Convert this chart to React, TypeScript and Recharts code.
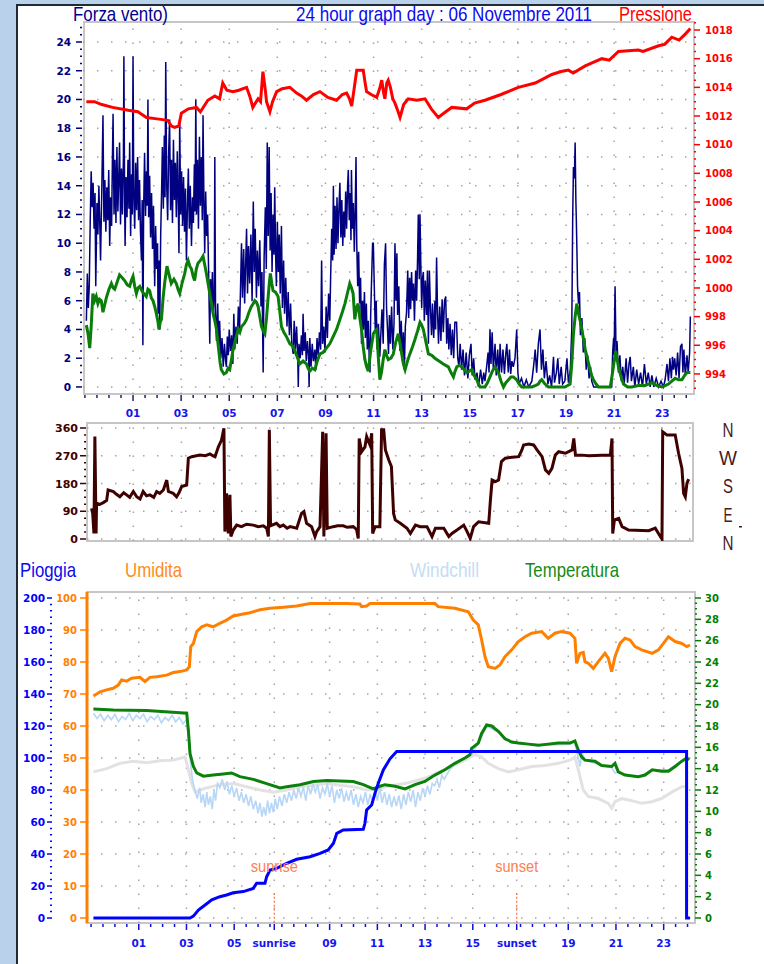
import React from 'react';
import { LineChart, Line, XAxis, YAxis, ReferenceLine, ReferenceDot } from 'recharts';

type P = [number, number];

// ---------- tick labels / categories ----------
const hourTicksTop = [1, 3, 5, 7, 9, 11, 13, 15, 17, 19, 21, 23];
const hourLabelsTop = ['01', '03', '05', '07', '09', '11', '13', '15', '17', '19', '21', '23'];
const sunriseHour = 6.68;
const sunsetHour = 16.84;
const hourTicksBottom = [1, 3, 5, sunriseHour, 9, 11, 13, 15, sunsetHour, 19, 21, 23];
const hourLabelsBottom = ['01', '03', '05', 'sunrise', '09', '11', '13', '15', 'sunset', '19', '21', '23'];
const windTicks = [0, 2, 4, 6, 8, 10, 12, 14, 16, 18, 20, 22, 24];
const pressureTicks = [994, 996, 998, 1000, 1002, 1004, 1006, 1008, 1010, 1012, 1014, 1016, 1018];
const dirTicks = [0, 90, 180, 270, 360];
const dirLetters = ['N', 'W', 'S', 'E', 'N'];
const rainTicks = [0, 20, 40, 60, 80, 100, 120, 140, 160, 180, 200];
const humTicks = [0, 10, 20, 30, 40, 50, 60, 70, 80, 90, 100];
const tempTicks = [0, 2, 4, 6, 8, 10, 12, 14, 16, 18, 20, 22, 24, 26, 28, 30];

// ---------- series (hour, value) ----------
const pressure: P[] = [
  [-0.94, 1013.0], [-0.6, 1013.0], [-0.3, 1012.8], [0.15, 1012.6], [0.8, 1012.4], [1.2, 1012.3], [1.56, 1011.9], [2.0, 1011.8],
  [2.44, 1011.7], [2.6, 1011.3], [2.73, 1011.2], [2.9, 1011.3], [3.01, 1012.2], [3.3, 1012.5], [3.64, 1012.6], [3.8, 1012.3],
  [4.11, 1013.1], [4.4, 1013.4], [4.6, 1013.2], [4.73, 1014.3], [4.9, 1013.8], [5.15, 1013.7], [5.4, 1013.8], [5.72, 1014.0],
  [5.85, 1013.4], [5.98, 1012.6], [6.2, 1013.2], [6.3, 1013.0], [6.4, 1015.1], [6.5, 1013.8], [6.55, 1013.0], [6.69, 1012.3],
  [6.8, 1013.0], [6.97, 1013.7], [7.2, 1013.9], [7.52, 1014.0], [7.8, 1013.6], [8.0, 1013.4], [8.21, 1013.1], [8.5, 1013.5],
  [8.77, 1013.7], [9.1, 1013.3], [9.46, 1013.1], [9.7, 1013.5], [9.88, 1013.6], [10.0, 1013.2], [10.09, 1012.7], [10.2, 1014.0],
  [10.3, 1015.2], [10.57, 1015.2], [10.65, 1014.3], [10.71, 1013.7], [10.9, 1013.5], [11.13, 1013.3], [11.25, 1013.9], [11.34, 1014.5],
  [11.42, 1013.6], [11.47, 1013.2], [11.55, 1014.3], [11.61, 1014.5], [11.7, 1014.0], [11.8, 1013.2], [11.89, 1012.9], [12.0, 1012.4],
  [12.1, 1011.9], [12.25, 1012.8], [12.44, 1013.2], [12.8, 1013.1], [13.14, 1013.2], [13.4, 1012.5], [13.69, 1011.9], [14.0, 1012.3],
  [14.25, 1012.6], [14.87, 1012.5], [15.2, 1012.9], [15.63, 1013.1], [16.3, 1013.5], [17.02, 1014.0], [17.72, 1014.3], [18.41, 1014.9],
  [18.8, 1015.1], [19.1, 1015.2], [19.3, 1015.0], [19.8, 1015.5], [20.49, 1016.0], [20.8, 1015.9], [21.18, 1016.5], [22.01, 1016.6],
  [22.2, 1016.5], [22.85, 1016.9], [23.1, 1017.0], [23.4, 1017.5], [23.7, 1017.3], [23.95, 1017.7], [24.17, 1018.1],
];

const gustNight: P[] = [
  [-0.94, 4.6], [-0.9, 7.9], [-0.86, 5.5], [-0.82, 7.0], [-0.78, 11.5], [-0.74, 15.0], [-0.7, 12.5], [-0.66, 14.2], [-0.62, 11.0],
  [-0.58, 13.5], [-0.55, 7.0], [-0.5, 12.8], [-0.46, 10.6], [-0.42, 14.0], [-0.38, 11.2], [-0.35, 8.8], [-0.3, 13.6], [-0.25, 18.9],
  [-0.21, 11.5], [-0.17, 14.4], [-0.13, 10.8], [-0.09, 13.9], [-0.05, 11.6], [-0.01, 15.1], [0.03, 9.8], [0.07, 13.2], [0.11, 11.2],
  [0.14, 15.5], [0.17, 19.0], [0.21, 12.0], [0.25, 15.8], [0.29, 11.4], [0.33, 16.7], [0.37, 12.2], [0.41, 14.8], [0.44, 17.0],
  [0.48, 11.3], [0.52, 15.2], [0.56, 12.0], [0.6, 16.0], [0.62, 23.0], [0.65, 13.0], [0.67, 9.8], [0.71, 14.6], [0.75, 11.8],
  [0.79, 15.8], [0.83, 12.4], [0.86, 17.0], [0.9, 10.5], [0.94, 14.8], [0.97, 12.0], [1.0, 23.0], [1.03, 13.5], [1.07, 11.0],
  [1.11, 15.6], [1.15, 12.3], [1.19, 16.0], [1.23, 11.6], [1.27, 14.4], [1.31, 10.8], [1.35, 8.8], [1.38, 13.0], [1.41, 2.9],
  [1.44, 12.2], [1.48, 16.3], [1.52, 11.9], [1.56, 15.0], [1.59, 12.6], [1.62, 20.0], [1.65, 11.8], [1.69, 14.7], [1.73, 10.4],
  [1.77, 13.5], [1.81, 9.6], [1.85, 12.6], [1.9, 7.0], [1.94, 11.2], [1.98, 8.2], [2.02, 10.0], [2.04, 5.1], [2.08, 8.8],
  [2.11, 4.0], [2.15, 10.6], [2.19, 13.8], [2.22, 16.7], [2.26, 12.4], [2.3, 17.5], [2.33, 13.2], [2.36, 22.6], [2.4, 14.0],
  [2.44, 11.6], [2.48, 16.2], [2.52, 18.6], [2.56, 12.3], [2.6, 15.8], [2.64, 11.4], [2.68, 17.2], [2.72, 13.0], [2.76, 15.6],
  [2.8, 11.8], [2.84, 16.4], [2.88, 12.8], [2.91, 9.3], [2.94, 18.6], [2.98, 12.0], [3.02, 15.0], [3.06, 11.2], [3.1, 14.6],
  [3.14, 10.8], [3.18, 13.8], [3.22, 8.8], [3.26, 12.5], [3.3, 15.2], [3.34, 11.0], [3.38, 14.0], [3.43, 9.8], [3.47, 13.2],
  [3.51, 11.4], [3.55, 15.5], [3.58, 12.2], [3.61, 20.0], [3.64, 12.0], [3.68, 15.8], [3.72, 11.0], [3.76, 17.4], [3.8, 12.6],
  [3.84, 16.0], [3.88, 11.6], [3.91, 18.9], [3.95, 12.4], [3.98, 9.3], [4.02, 13.6], [4.06, 10.5], [4.1, 12.0], [4.14, 8.2],
  [4.19, 3.0], [4.22, 7.5], [4.26, 5.8], [4.3, 8.0], [4.34, 5.0], [4.38, 6.6], [4.4, 16.0],
];

const gustMorning: P[] = [
  [4.43, 5.2], [4.47, 3.2], [4.52, 5.8], [4.56, 2.8], [4.6, 4.6], [4.65, 2.0], [4.7, 3.4], [4.75, 1.4], [4.8, 3.0], [4.85, 1.8],
  [4.88, 1.4], [4.92, 3.5], [4.96, 2.2], [5.0, 4.0], [5.05, 2.5], [5.1, 3.6], [5.15, 1.6], [5.19, 5.1], [5.23, 2.6], [5.28, 4.2],
  [5.33, 3.0], [5.38, 5.6], [5.43, 4.0], [5.47, 7.0], [5.51, 10.0], [5.55, 6.2], [5.6, 9.6], [5.64, 5.8], [5.68, 8.4], [5.72, 11.0],
  [5.76, 6.5], [5.8, 9.8], [5.85, 7.2], [5.9, 10.6], [5.95, 6.0], [6.0, 12.9], [6.04, 8.0], [6.08, 11.0], [6.13, 6.2], [6.17, 9.5],
  [6.22, 7.0], [6.27, 10.2], [6.32, 5.6], [6.36, 8.0], [6.41, 1.0], [6.45, 9.0], [6.5, 12.5], [6.54, 8.2], [6.58, 17.0], [6.62, 10.5],
  [6.66, 16.7], [6.7, 9.5], [6.74, 13.5], [6.78, 8.0], [6.82, 12.0], [6.86, 9.2], [6.89, 13.9], [6.93, 9.0], [6.96, 7.0], [7.0, 11.5],
  [7.04, 8.0], [7.08, 10.6], [7.12, 6.5], [7.17, 11.2], [7.21, 5.5], [7.26, 8.8], [7.3, 5.1], [7.35, 7.6], [7.4, 4.2], [7.45, 6.6],
  [7.5, 3.6], [7.55, 5.8], [7.6, 3.0], [7.66, 2.3], [7.7, 4.6], [7.75, 2.6], [7.8, 4.2], [7.85, 2.0], [7.87, 0], [7.9, 3.0],
  [7.95, 2.0], [8.0, 3.6], [8.04, 2.2], [8.07, 5.1], [8.11, 2.5], [8.16, 3.8], [8.2, 1.8], [8.25, 3.2], [8.3, 2.0], [8.32, 0],
  [8.35, 3.4], [8.4, 1.4], [8.45, 3.0], [8.5, 1.8], [8.56, 2.6], [8.6, 1.2], [8.65, 3.4], [8.7, 2.2], [8.75, 3.8], [8.8, 2.6],
  [8.84, 8.8], [8.88, 3.0], [8.93, 4.2], [8.98, 2.4], [9.03, 5.6], [9.08, 3.4], [9.13, 6.5], [9.18, 4.6], [9.22, 8.0], [9.26, 11.0],
  [9.3, 8.8], [9.33, 14.0], [9.36, 9.2], [9.4, 12.6], [9.44, 9.6], [9.48, 13.2], [9.52, 10.0], [9.56, 12.4], [9.6, 14.2], [9.64, 10.4],
  [9.68, 13.0], [9.72, 9.8], [9.76, 12.2], [9.8, 10.4], [9.84, 13.6], [9.88, 11.0], [9.92, 14.0], [9.95, 15.1], [9.99, 11.6], [10.03, 13.5],
  [10.06, 10.2], [10.08, 15.1], [10.12, 11.0], [10.16, 12.8], [10.2, 9.4], [10.24, 12.6], [10.27, 16.0], [10.3, 10.0], [10.34, 7.0],
  [10.38, 9.4], [10.42, 5.8], [10.46, 7.6], [10.5, 3.0], [10.54, 6.0], [10.58, 4.0], [10.62, 6.6], [10.66, 3.4], [10.7, 5.8],
  [10.74, 2.6], [10.78, 4.6], [10.82, 2.0], [10.85, 1.0], [10.88, 5.0], [10.92, 7.6], [10.96, 10.0], [10.99, 10.0], [11.03, 7.0],
  [11.07, 4.0], [11.11, 6.0], [11.15, 2.6], [11.2, 4.4], [11.26, 2.1], [11.3, 3.6], [11.35, 5.4], [11.4, 3.0], [11.45, 8.5],
  [11.5, 10.0], [11.54, 5.5],
];

const gustAfternoon: P[] = [
  [11.58, 4.0], [11.62, 2.3], [11.66, 5.0], [11.7, 3.0], [11.75, 5.6], [11.8, 2.6], [11.85, 4.4], [11.89, 10.0], [11.93, 6.0],
  [11.97, 9.3], [12.0, 5.0], [12.05, 7.0], [12.1, 2.5], [12.15, 4.6], [12.2, 1.8], [12.24, 3.8], [12.28, 1.2], [12.32, 4.2],
  [12.37, 5.2], [12.42, 8.1], [12.46, 4.8], [12.5, 7.6], [12.54, 5.4], [12.58, 8.0], [12.62, 6.0], [12.66, 7.2], [12.7, 4.6],
  [12.75, 8.1], [12.79, 6.0], [12.83, 9.0], [12.86, 12.0], [12.9, 7.5], [12.93, 12.0], [12.97, 8.0], [13.0, 5.5], [13.04, 7.6],
  [13.07, 8.0], [13.11, 4.6], [13.15, 7.4], [13.2, 5.0], [13.24, 8.1], [13.28, 3.0], [13.32, 8.1], [13.37, 5.2], [13.41, 3.6],
  [13.45, 5.8], [13.5, 3.4], [13.55, 6.0], [13.58, 4.0], [13.62, 9.0], [13.66, 5.2], [13.7, 3.0], [13.75, 5.6], [13.8, 3.2],
  [13.85, 6.1], [13.9, 3.8], [13.95, 6.0], [14.0, 6.3], [14.04, 3.0], [14.09, 4.8], [14.13, 2.6], [14.18, 4.4], [14.23, 2.2],
  [14.28, 4.0], [14.33, 2.0], [14.38, 4.5], [14.45, 4.5], [14.5, 2.0], [14.55, 1.4], [14.6, 3.0], [14.66, 1.2], [14.72, 2.6],
  [14.78, 0.8], [14.85, 2.4], [14.92, 0.6], [14.98, 2.2], [15.05, 3.0], [15.1, 0.8], [15.16, 2.0], [15.22, 0.5], [15.3, 1.0],
  [15.36, 0], [15.45, 1.2], [15.52, 0.2], [15.58, 1.0], [15.63, 0.4], [15.7, 1.4], [15.76, 2.4], [15.8, 1.0], [15.84, 4.0],
  [15.88, 1.6], [15.93, 3.8], [15.98, 1.2], [16.05, 3.0], [16.1, 0.8], [16.16, 2.6], [16.22, 0.8], [16.26, 3.0], [16.32, 1.0],
  [16.38, 2.6], [16.44, 0.9], [16.5, 2.4], [16.54, 3.0], [16.6, 1.0], [16.65, 2.6], [16.7, 0.9], [16.75, 1.8], [16.81, 1.4],
  [16.88, 2.0], [16.95, 4.0], [17.0, 1.0], [17.05, 0.2], [17.15, 0.6], [17.25, 0], [17.35, 0.5], [17.45, 0], [17.58, 0.4],
  [17.65, 1.4], [17.72, 2.6], [17.78, 1.0], [17.85, 3.0], [17.92, 4.0], [17.98, 1.2], [18.04, 2.6], [18.1, 0.6], [18.17, 1.8],
  [18.25, 0.2], [18.32, 0.8], [18.4, 0], [18.48, 2.1], [18.52, 0.3], [18.6, 1.0], [18.66, 2.0], [18.72, 0.2], [18.8, 1.4],
  [18.86, 0.2], [18.95, 0.4], [19.04, 2.0], [19.1, 0.3], [19.18, 1.2], [19.24, 4.0], [19.28, 12.0], [19.31, 15.3], [19.35, 14.5],
  [19.38, 17.0], [19.41, 13.0], [19.43, 11.6], [19.46, 9.0], [19.48, 7.0], [19.52, 5.8], [19.56, 6.6], [19.6, 3.6], [19.66, 4.8],
  [19.72, 2.4], [19.78, 3.4], [19.84, 1.2], [19.9, 2.2], [19.96, 0.6], [20.02, 1.4], [20.07, 0.4], [20.15, 0], [20.5, 0],
  [20.9, 0], [20.94, 2.4], [20.98, 3.4], [21.0, 2.2], [21.04, 7.0], [21.08, 2.4], [21.12, 3.2], [21.18, 1.0], [21.24, 2.2],
  [21.3, 0.4], [21.36, 1.4], [21.42, 0.2], [21.5, 2.0], [21.56, 0.3], [21.62, 1.6], [21.67, 2.1], [21.72, 0.4], [21.8, 1.4],
  [21.86, 0], [21.94, 1.2], [22.02, 0.2], [22.1, 1.0], [22.18, 0], [22.26, 1.6], [22.34, 0.2], [22.42, 1.0], [22.5, 0],
  [22.57, 0.8], [22.65, 0], [22.75, 0.6], [22.85, 0], [22.95, 0.4], [23.05, 0], [23.12, 0.5], [23.2, 1.6], [23.26, 0.4],
  [23.32, 2.0], [23.38, 0.6], [23.43, 2.1], [23.47, 1.2], [23.52, 2.0], [23.58, 0.8], [23.64, 2.4], [23.7, 0.6], [23.76, 2.8],
  [23.82, 3.0], [23.86, 1.0], [23.9, 2.6], [23.96, 0.8], [24.03, 2.2], [24.08, 1.0], [24.14, 2.4], [24.17, 4.9],
];

const windAvg: P[] = [
  [-0.94, 4.3], [-0.87, 3.7], [-0.8, 2.7], [-0.74, 4.2], [-0.67, 6.5], [-0.6, 6.0], [-0.53, 6.3], [-0.46, 5.8], [-0.39, 6.1],
  [-0.32, 6.0], [-0.25, 5.2], [-0.18, 5.7], [-0.11, 6.2], [0.0, 6.8], [0.1, 7.2], [0.17, 6.9], [0.24, 6.8], [0.34, 7.3],
  [0.44, 7.8], [0.55, 7.6], [0.65, 7.4], [0.76, 7.1], [0.86, 7.0], [0.93, 7.4], [1.0, 7.7], [1.07, 7.0], [1.14, 6.5],
  [1.21, 6.9], [1.28, 7.0], [1.4, 6.6], [1.55, 6.3], [1.62, 6.8], [1.69, 6.7], [1.76, 6.2], [1.83, 6.0], [1.9, 5.6],
  [1.97, 5.1], [2.03, 4.6], [2.08, 4.0], [2.13, 4.5], [2.18, 4.7], [2.25, 6.2], [2.32, 7.3], [2.41, 8.4], [2.5, 7.8],
  [2.59, 7.2], [2.7, 7.5], [2.8, 7.2], [2.87, 6.8], [2.94, 6.5], [3.05, 7.3], [3.15, 7.9], [3.22, 8.5], [3.29, 8.8],
  [3.36, 8.4], [3.43, 8.2], [3.5, 7.7], [3.56, 7.4], [3.63, 8.2], [3.7, 8.6], [3.8, 8.8], [3.91, 9.1], [3.98, 8.5],
  [4.05, 7.9], [4.12, 7.2], [4.19, 6.5], [4.26, 5.8], [4.33, 5.1], [4.4, 4.6], [4.47, 4.0], [4.52, 3.2], [4.58, 2.3],
  [4.62, 1.7], [4.67, 1.2], [4.78, 0.9], [4.88, 1.0], [4.95, 1.3], [5.02, 1.2], [5.09, 1.9], [5.16, 2.6], [5.26, 3.3],
  [5.37, 4.0], [5.44, 3.8], [5.51, 4.2], [5.62, 4.4], [5.72, 4.7], [5.82, 5.2], [5.92, 5.6], [6.0, 5.8], [6.06, 6.0],
  [6.13, 5.9], [6.2, 5.6], [6.27, 4.9], [6.34, 4.2], [6.41, 3.9], [6.48, 3.7], [6.55, 4.8], [6.62, 6.3], [6.67, 7.3],
  [6.71, 7.9], [6.77, 7.2], [6.82, 6.7], [6.92, 6.6], [7.03, 6.3], [7.1, 5.3], [7.17, 4.2], [7.27, 3.8], [7.38, 3.5],
  [7.52, 3.0], [7.66, 2.8], [7.8, 2.2], [7.93, 1.6], [8.07, 1.8], [8.21, 1.6], [8.28, 1.3], [8.35, 1.1], [8.45, 1.3],
  [8.56, 1.2], [8.66, 1.8], [8.77, 2.3], [8.9, 2.4], [9.04, 2.7], [9.18, 3.0], [9.32, 3.5], [9.46, 4.0], [9.6, 4.7],
  [9.7, 5.2], [9.81, 5.8], [9.91, 6.5], [10.01, 7.2], [10.08, 6.9], [10.15, 6.5], [10.22, 4.7], [10.29, 5.5], [10.36, 5.8],
  [10.43, 4.8], [10.5, 4.0], [10.57, 2.8], [10.64, 1.9], [10.71, 1.4], [10.78, 1.1], [10.88, 2.5], [10.99, 3.7],
  [11.06, 3.9], [11.13, 4.0], [11.2, 2.0], [11.26, 0.5], [11.33, 1.0], [11.4, 1.9], [11.47, 2.6], [11.54, 2.2],
  [11.61, 1.9], [11.72, 2.0], [11.82, 2.3], [11.92, 3.1], [12.03, 3.7], [12.1, 3.0], [12.17, 2.3], [12.24, 1.6],
  [12.31, 1.2], [12.41, 1.8], [12.51, 2.3], [12.62, 2.8], [12.72, 3.3], [12.83, 3.9], [12.93, 4.5], [13.0, 4.3],
  [13.07, 4.0], [13.18, 3.1], [13.28, 2.3], [13.42, 2.2], [13.55, 2.0], [13.72, 1.8], [13.9, 1.6], [14.0, 1.5],
  [14.11, 1.4], [14.22, 1.0], [14.32, 0.7], [14.39, 1.1], [14.46, 1.4], [14.56, 1.5], [14.66, 1.4], [14.77, 1.2],
  [14.87, 1.0], [14.98, 1.1], [15.08, 1.2], [15.18, 0.8], [15.29, 0.5], [15.36, 0.2], [15.43, 0], [15.53, 0],
  [15.63, 0], [15.74, 0.3], [15.84, 0.7], [15.94, 1.1], [16.05, 1.4], [16.12, 1.2], [16.19, 1.0], [16.3, 0.4],
  [16.4, 0], [16.5, 0.3], [16.61, 0.5], [16.71, 0.7], [16.81, 0.7], [16.88, 0.6], [16.95, 0.5], [17.05, 0.2],
  [17.16, 0], [17.37, 0], [17.58, 0], [17.72, 0.1], [17.85, 0.2], [17.92, 0.4], [17.99, 0.5], [18.13, 0.2],
  [18.27, 0], [18.62, 0], [18.96, 0], [19.07, 0.1], [19.17, 0.2], [19.24, 1.6], [19.31, 3.7], [19.38, 4.9],
  [19.45, 5.8], [19.52, 5.1], [19.59, 4.6], [19.66, 4.0], [19.73, 3.3], [19.8, 2.6], [19.9, 1.9], [20.0, 1.2],
  [20.07, 0.8], [20.14, 0.5], [20.25, 0.2], [20.35, 0], [20.6, 0], [20.84, 0], [20.9, 0.6], [20.97, 1.4],
  [21.02, 2.0], [21.07, 2.5], [21.12, 2.0], [21.18, 1.4], [21.29, 0.7], [21.39, 0.2], [21.56, 0], [21.73, 0],
  [22.01, 0.1], [22.29, 0.1], [22.43, 0.2], [22.57, 0.3], [22.78, 0.1], [22.99, 0], [23.12, 0.1], [23.26, 0.2],
  [23.4, 0.4], [23.54, 0.6], [23.68, 0.5], [23.82, 0.5], [23.93, 0.8], [24.03, 1.0], [24.17, 1.0],
];

const windDir: P[] = [
  [-0.74, 99], [-0.69, 83], [-0.64, 18], [-0.6, 332], [-0.55, 18], [-0.53, 116], [-0.4, 112], [-0.25, 118], [-0.11, 125],
  [-0.05, 159], [0.17, 154], [0.3, 145], [0.44, 137], [0.6, 150], [0.72, 143], [0.85, 135], [1.0, 154], [1.14, 137], [1.28, 130],
  [1.41, 154], [1.55, 140], [1.69, 143], [1.85, 135], [1.97, 154], [2.1, 148], [2.25, 159], [2.39, 191], [2.46, 154], [2.66, 148],
  [2.8, 137], [2.9, 150], [3.01, 170], [3.22, 175], [3.29, 262], [3.43, 267], [3.77, 272], [4.0, 270], [4.19, 276], [4.3, 270],
  [4.4, 267], [4.54, 299], [4.67, 321], [4.77, 359], [4.81, 24], [4.88, 148], [4.95, 18], [5.02, 143], [5.06, 8], [5.16, 29],
  [5.3, 45], [5.5, 40], [5.71, 48], [5.99, 45], [6.2, 40], [6.41, 43], [6.55, 35], [6.62, 8], [6.66, 354], [6.71, 43], [6.96, 51],
  [7.1, 40], [7.24, 45], [7.4, 35], [7.52, 40], [7.8, 35], [8.0, 83], [8.1, 89], [8.21, 51], [8.42, 40], [8.56, 8], [8.63, 24],
  [8.77, 40], [8.88, 348], [8.93, 8], [9.02, 343], [9.07, 35], [9.32, 40], [9.5, 43], [9.74, 43], [9.9, 38], [10.15, 40],
  [10.29, 31], [10.36, 2], [10.4, 326], [10.5, 283], [10.64, 299], [10.71, 332], [10.85, 305], [10.92, 343], [10.96, 18],
  [11.06, 40], [11.26, 40], [11.33, 354], [11.42, 354], [11.49, 289], [11.63, 256], [11.74, 235], [11.83, 83], [11.9, 62],
  [12.11, 51], [12.39, 35], [12.53, 18], [12.74, 45], [12.94, 40], [13.22, 40], [13.43, 8], [13.57, 35], [13.92, 35], [14.13, 8],
  [14.26, 18], [14.47, 29], [14.75, 45], [14.89, 24], [15.02, 2], [15.16, 40], [15.37, 56], [15.79, 51], [15.86, 126], [15.93, 191],
  [16.07, 186], [16.2, 191], [16.32, 251], [16.48, 262], [16.76, 265], [17.04, 267], [17.17, 289], [17.24, 305], [17.45, 308],
  [17.66, 305], [17.8, 289], [18.01, 267], [18.15, 224], [18.29, 213], [18.42, 229], [18.56, 272], [18.7, 283], [18.98, 278],
  [19.26, 289], [19.33, 326], [19.4, 272], [19.67, 272], [19.95, 270], [20.5, 272], [20.85, 272], [20.92, 326], [20.95, 18],
  [21.02, 62], [21.2, 67], [21.34, 40], [21.61, 29], [22.45, 27], [22.72, 35], [22.93, 8], [23.0, 0], [23.03, 348], [23.21, 337],
  [23.55, 337], [23.69, 278], [23.83, 229], [23.9, 148], [23.97, 137], [24.04, 181], [24.11, 194],
];

const humidity: P[] = [
  [-0.9, 69.4], [-0.62, 70.7], [-0.35, 71.3], [-0.07, 71.8], [0.14, 72.8], [0.28, 74.4], [0.49, 74.0], [0.7, 74.9], [1.05, 75.2],
  [1.26, 73.9], [1.47, 75.2], [1.75, 75.4], [2.17, 75.9], [2.45, 76.7], [2.73, 77.0], [3.01, 77.5], [3.12, 78.5], [3.18, 84.8],
  [3.29, 85.8], [3.43, 89.5], [3.64, 91.0], [3.85, 91.6], [4.12, 91.0], [4.4, 92.1], [4.68, 93.1], [4.96, 94.4], [5.38, 95.0],
  [5.66, 95.4], [6.08, 96.3], [6.5, 96.8], [7.06, 97.1], [7.62, 97.5], [8.18, 98.3], [8.88, 98.3], [9.71, 98.3], [10.27, 98.1],
  [10.34, 97.3], [10.55, 97.5], [10.69, 98.3], [11.53, 98.3], [13.41, 98.3], [13.55, 97.3], [14.25, 96.8], [14.81, 95.7],
  [15.02, 93.1], [15.23, 91.6], [15.37, 86.9], [15.51, 81.7], [15.65, 78.5], [15.93, 78.0], [16.14, 79.1], [16.35, 81.7],
  [16.63, 83.8], [16.91, 86.4], [17.19, 87.9], [17.47, 89.0], [17.89, 89.5], [18.16, 87.4], [18.44, 89.0], [18.72, 89.5],
  [19.07, 89.0], [19.28, 87.4], [19.35, 79.6], [19.49, 82.7], [19.63, 83.0], [19.7, 80.1], [19.84, 79.6], [20.05, 78.0],
  [20.26, 80.1], [20.54, 82.7], [20.68, 81.2], [20.82, 77.0], [20.96, 81.7], [21.17, 85.8], [21.38, 87.4], [21.59, 86.9],
  [21.8, 84.8], [22.08, 83.8], [22.52, 82.7], [22.78, 83.8], [22.99, 85.8], [23.2, 87.9], [23.48, 86.4], [23.76, 85.8],
  [23.97, 84.8], [24.1, 85.3],
];

const temperature: P[] = [
  [-0.9, 19.6], [-0.07, 19.5], [1.33, 19.45], [2.73, 19.25], [3.01, 19.2], [3.08, 17.6], [3.15, 15.4], [3.29, 14.2], [3.43, 13.6],
  [3.71, 13.3], [4.12, 13.4], [4.54, 13.5], [4.89, 13.6], [5.24, 13.25], [5.8, 13.0], [6.36, 12.6], [6.92, 12.2], [7.2, 12.3],
  [7.76, 12.5], [8.32, 12.8], [8.88, 12.9], [9.43, 12.85], [9.99, 12.8], [10.41, 12.5], [10.83, 12.1], [11.11, 12.35], [11.32, 12.5],
  [11.74, 12.35], [12.16, 12.1], [12.58, 12.5], [12.99, 12.8], [13.41, 13.4], [13.83, 13.9], [14.25, 14.5], [14.67, 15.0],
  [14.88, 15.3], [14.95, 15.9], [15.23, 16.4], [15.37, 17.3], [15.58, 18.1], [15.79, 18.0], [16.07, 17.5], [16.35, 16.8],
  [16.63, 16.5], [16.91, 16.4], [17.33, 16.3], [17.75, 16.2], [18.16, 16.3], [18.58, 16.4], [19.07, 16.4], [19.28, 16.6],
  [19.42, 15.75], [19.56, 15.1], [19.7, 14.8], [20.12, 14.7], [20.4, 14.3], [20.82, 14.2], [20.96, 14.5], [21.1, 13.7],
  [21.38, 13.4], [21.94, 13.25], [22.22, 13.4], [22.52, 13.9], [22.91, 13.75], [23.2, 13.75], [23.48, 14.2], [23.76, 14.7],
  [23.97, 15.0], [24.06, 14.8],
];

const dewGray: P[] = [
  [-0.9, 13.7], [-0.35, 14.0], [0.21, 14.5], [0.77, 14.7], [1.33, 14.55], [1.89, 14.75], [2.45, 14.8], [2.94, 15.1], [3.08, 13.9],
  [3.22, 12.6], [3.36, 11.8], [3.57, 12.0], [3.85, 12.2], [4.4, 12.5], [4.96, 12.6], [5.52, 12.3], [6.08, 12.0], [6.64, 11.8],
  [7.2, 12.0], [7.76, 12.3], [8.32, 12.45], [8.88, 12.6], [9.43, 12.45], [9.99, 12.3], [10.55, 12.0], [11.11, 12.1], [11.32, 12.3],
  [12.16, 12.6], [12.99, 13.1], [13.83, 13.9], [14.67, 14.8], [15.09, 15.3], [15.37, 15.1], [15.65, 14.5], [16.07, 14.0],
  [16.49, 13.7], [16.91, 13.9], [17.47, 14.2], [18.03, 14.3], [18.58, 14.5], [19.07, 14.8], [19.28, 15.1], [19.42, 13.9],
  [19.63, 12.0], [19.84, 11.4], [20.26, 11.2], [20.68, 10.75], [20.82, 10.3], [20.96, 10.9], [21.24, 11.2], [21.66, 11.0],
  [22.08, 10.75], [22.5, 10.9], [22.91, 11.2], [23.34, 11.8], [23.76, 12.3], [24.03, 12.3],
];

const windchill: P[] = [
  [-0.9, 19.2], [-0.75, 18.7], [-0.6, 19.1], [-0.45, 18.5], [-0.3, 19.0], [-0.15, 18.6], [0, 19.1], [0.15, 18.4], [0.3, 18.9],
  [0.45, 18.6], [0.6, 19.2], [0.75, 18.5], [0.9, 19.0], [1.05, 18.7], [1.2, 19.1], [1.35, 18.4], [1.5, 18.9], [1.65, 18.6],
  [1.8, 19.0], [1.95, 18.3], [2.1, 18.8], [2.25, 18.5], [2.4, 19.0], [2.55, 18.4], [2.7, 18.8], [2.85, 18.2], [3.0, 18.6],
  [3.08, 17.0], [3.15, 15.0], [3.25, 13.0], [3.35, 12.0], [3.45, 11.2], [3.55, 12.2], [3.62, 10.8], [3.7, 11.6], [3.78, 10.4],
  [3.85, 11.8], [3.92, 10.6], [4.0, 11.4], [4.08, 10.2], [4.15, 12.0], [4.22, 11.0], [4.3, 12.6], [4.4, 12.2], [4.5, 13.0],
  [4.6, 12.0], [4.7, 12.8], [4.8, 11.6], [4.9, 12.4], [5.0, 11.4], [5.1, 12.2], [5.2, 11.0], [5.3, 11.8], [5.4, 10.8], [5.5, 11.6],
  [5.6, 10.5], [5.7, 11.4], [5.8, 10.2], [5.9, 11.0], [6.0, 9.8], [6.08, 10.8], [6.16, 9.5], [6.24, 10.4], [6.32, 9.6], [6.4, 11.0],
  [6.48, 9.8], [6.56, 10.8], [6.64, 9.9], [6.72, 11.2], [6.8, 10.2], [6.9, 11.4], [7.0, 10.5], [7.1, 11.6], [7.2, 10.8], [7.3, 11.8],
  [7.4, 11.0], [7.5, 12.0], [7.6, 11.2], [7.7, 12.2], [7.8, 11.4], [7.9, 12.3], [8.0, 11.0], [8.1, 12.4], [8.2, 11.6], [8.3, 12.6],
  [8.4, 11.8], [8.5, 12.5], [8.6, 11.2], [8.7, 12.2], [8.8, 11.6], [8.9, 12.6], [9.0, 11.4], [9.1, 12.4], [9.2, 10.8], [9.3, 12.0],
  [9.4, 11.2], [9.5, 12.2], [9.6, 10.9], [9.7, 11.8], [9.8, 11.0], [9.9, 12.0], [10.0, 10.6], [10.1, 11.6], [10.2, 10.4],
  [10.3, 11.4], [10.4, 10.8], [10.5, 11.8], [10.6, 10.6], [10.7, 11.6], [10.8, 10.8], [10.9, 12.0], [11.0, 11.0], [11.1, 12.2],
  [11.2, 10.8], [11.3, 11.8], [11.4, 10.6], [11.5, 11.6], [11.6, 10.4], [11.7, 11.4], [11.8, 10.5], [11.9, 11.5], [12.0, 10.2],
  [12.1, 11.6], [12.2, 10.6], [12.3, 11.8], [12.4, 10.9], [12.5, 12.0], [12.6, 10.4], [12.7, 11.8], [12.8, 11.0], [12.9, 12.2],
  [13.0, 11.4], [13.1, 12.4], [13.2, 11.6], [13.3, 12.6], [13.4, 12.4], [13.5, 13.0], [13.6, 12.2], [13.7, 13.4], [13.8, 13.0],
  [14.0, 13.8], [14.2, 14.3], [14.4, 14.6], [14.6, 14.9], [14.88, 15.3], [15.23, 16.3], [15.58, 18.0], [16.07, 17.4],
  [16.63, 16.4], [17.33, 16.3], [18.16, 16.2], [19.07, 16.3], [19.28, 16.5], [19.42, 15.0], [19.5, 14.2], [19.56, 15.6],
  [19.7, 14.8], [20.4, 14.3], [20.82, 14.1], [20.96, 13.6], [21.1, 13.7], [21.38, 13.4], [21.94, 13.2], [22.52, 13.9],
  [23.2, 13.9], [23.76, 14.7], [24.06, 15.0],
];

const rain: P[] = [
  [-0.9, 0], [3.15, 0], [3.29, 1.2], [3.5, 5], [3.78, 8.1], [4.06, 11.3], [4.4, 13.3], [4.68, 14.4], [4.96, 15.8], [5.38, 16.5],
  [5.8, 18.5], [5.94, 21.7], [6.29, 21.7], [6.36, 25.8], [6.5, 30], [6.78, 31], [7.2, 34.2], [7.62, 36.7], [8.18, 38.3],
  [8.6, 40.4], [8.94, 42.5], [9.16, 46.7], [9.3, 52.9], [9.57, 55], [10.41, 55.4], [10.48, 59.2], [10.55, 67.5], [10.76, 70.6],
  [10.9, 77.9], [11.04, 84.2], [11.25, 92.5], [11.53, 99.5], [11.81, 104], [23.96, 104], [23.96, 0], [24.1, 0],
];

// ---------- helpers ----------
const pts = (a: P[]) => a.map(([h, v]) => ({ h, v }));
const steps = (a: number, b: number, s: number) => {
  const r: number[] = [];
  for (let i = 0; a + i * s <= b + 1e-9; i++) r.push(Math.round((a + i * s) * 1000) / 1000);
  return r;
};
const union = (a: number[], b: number[]) => {
  const out = [...a];
  b.forEach((v) => { if (!out.some((o) => Math.abs(o - v) < 1e-6)) out.push(v); });
  return out.sort((x, y) => x - y);
};

const SANS = "'Liberation Sans', Arial, sans-serif";
const TICKFONT = "'DejaVu Sans', sans-serif";
const GRID = '#a4a4a4';
const DASH = '1.5 12.5';

interface YT {
  side: 'left' | 'right';
  majors: number[];
  color: string;
  labelColor: string;
  majorLen: number;
  minorLen: number;
  gap: number;
  size: number;
}
const makeYTick = (c: YT) => (props: any) => {
  const { x, y, payload } = props;
  const v = payload ? payload.value : 0;
  const isMajor = c.majors.some((m) => Math.abs(m - v) < 1e-6);
  const d = c.side === 'left' ? -1 : 1;
  const len = isMajor ? c.majorLen : c.minorLen;
  if (!isMajor && len === 0) return <g />;
  return (
    <g>
      <line x1={x + d} x2={x + d * (1 + len)} y1={y} y2={y} stroke={c.color} strokeWidth={1.5} />
      {isMajor ? (
        <text x={x + d * c.gap} y={y + c.size * 0.37} textAnchor={c.side === 'left' ? 'end' : 'start'}
          fill={c.labelColor} fontSize={c.size} fontWeight="bold" fontFamily={TICKFONT}>{String(v)}</text>
      ) : null}
    </g>
  );
};

const makeXTick = (majors: number[], labels: string[], tickColor: string, labelColor: string, labelDy: number) => (props: any) => {
  const { x, y, payload } = props;
  const v = payload ? payload.value : 0;
  const i = majors.findIndex((m) => Math.abs(m - v) < 1e-6);
  const isMajor = i >= 0;
  return (
    <g>
      <line x1={x} x2={x} y1={y + 1} y2={y + (isMajor ? 7 : 4)} stroke={tickColor} strokeWidth={1.5} />
      {isMajor ? (
        <text x={x} y={y + labelDy} textAnchor="middle" fill={labelColor} fontSize={10.5} fontWeight="bold" fontFamily={TICKFONT}>{labels[i]}</text>
      ) : null}
    </g>
  );
};

// tall, condensed text: normal font at the measured width, stretched vertically
const Tall = (p: { x: number; y: number; w: number; fill: string; size?: number; anchor?: string; children: string }) => (
  <text transform={`translate(${p.x},${p.y}) scale(1,1.16)`} x={0} y={0} fill={p.fill} fontSize={p.size || 17}
    fontFamily={SANS} textLength={p.w} lengthAdjust="spacingAndGlyphs" textAnchor={p.anchor || 'start'}>{p.children}</text>
);

const halfHours = steps(-1, 24, 0.5);
const topXTicks = union(halfHours, hourTicksTop);
const bottomXTicks = union(halfHours, hourTicksBottom);

const pressureData = pts(pressure);
const gustData = pts([...gustNight, ...gustMorning, ...gustAfternoon]);
const avgData = pts(windAvg);
const dirData = pts(windDir);
const humData = pts(humidity);
const tempData = pts(temperature);
const grayData = pts(dewGray);
const chillData = pts(windchill);
const rainData = pts(rain);

const frame = (left: number, top: number, width: number, height: number) => (
  <div style={{ position: 'absolute', left, top, width, height, border: '2px solid #c6c6c6', boxSizing: 'border-box' }} />
);

const SunLabel = (text: string, w: number) => (props: any) => {
  const vb = props.viewBox || {};
  const cx = (vb.x || 0) + (vb.width || 0) / 2;
  const cy = (vb.y || 0) + (vb.height || 0) / 2;
  return (
    <text transform={`translate(${cx - w / 2},${cy}) scale(1,1.12)`} x={0} y={0} fill="#ff8050" fontSize={15}
      fontFamily={SANS} textLength={w} lengthAdjust="spacingAndGlyphs">{text}</text>
  );
};

export default function App() {
  return (
    <div style={{ position: 'absolute', left: 0, top: 0, width: 764, height: 964, background: '#ffffff', overflow: 'hidden' }}>
      <div style={{ position: 'absolute', left: 0, top: 0, width: 764, height: 4, background: '#b9d1ea' }} />
      <div style={{ position: 'absolute', left: 0, top: 0, width: 16, height: 964, background: '#b9d1ea' }} />
      <div style={{ position: 'absolute', left: 16, top: 4, width: 748, height: 2, background: '#1f2a36' }} />
      <div style={{ position: 'absolute', left: 16, top: 4, width: 2, height: 960, background: '#1f2a36' }} />

      {frame(83, 21, 612, 374)}
      {frame(86, 422, 608, 120)}
      {frame(86, 591, 610, 333)}

      {/* TOP CHART: wind + pressure */}
      <div style={{ position: 'absolute', left: 0, top: 0 }}>
        <LineChart width={764} height={430} margin={{ top: 22, right: 21, bottom: 6, left: 0 }}>
          <XAxis type="number" dataKey="h" domain={[-1.08, 24.28]} allowDataOverflow ticks={topXTicks} interval={0}
            tickLine={false} axisLine={false} tickSize={0} tickMargin={0} height={30}
            tick={makeXTick(hourTicksTop, hourLabelsTop, '#20206a', '#1414f0', 23)} />
          <YAxis yAxisId="w" orientation="left" type="number" domain={[-0.49, 25.39]} allowDataOverflow width={83}
            ticks={union(steps(0, 25, 0.5), windTicks)} interval={0} tickLine={false} axisLine={false} tickSize={0} tickMargin={0}
            tick={makeYTick({ side: 'left', majors: windTicks, color: '#000080', labelColor: '#000080', majorLen: 6, minorLen: 2, gap: 12, size: 10.5 })} />
          <YAxis yAxisId="p" orientation="right" type="number" domain={[992.6, 1018.56]} allowDataOverflow width={50}
            ticks={union(steps(993, 1018.5, 0.5), pressureTicks)} interval={0} tickLine={false} axisLine={false} tickSize={0} tickMargin={0}
            tick={makeYTick({ side: 'right', majors: pressureTicks, color: '#ff0000', labelColor: '#ff0000', majorLen: 6, minorLen: 2, gap: 12, size: 10 })} />
          {windTicks.map((v) => (
            <ReferenceLine key={'gw' + v} yAxisId="w" y={v} stroke={GRID} strokeDasharray={DASH} strokeWidth={1.5} />
          ))}
          {hourTicksTop.map((h) => (
            <ReferenceLine key={'gh' + h} yAxisId="w" x={h} stroke={GRID} strokeDasharray={DASH} strokeWidth={1.5} />
          ))}
          <Line yAxisId="w" data={gustData} dataKey="v" type="linear" stroke="#000080" strokeWidth={1.5} dot={false} isAnimationActive={false} />
          <Line yAxisId="w" data={avgData} dataKey="v" type="linear" stroke="#0b7d0b" strokeWidth={3} dot={false} isAnimationActive={false} />
          <Line yAxisId="p" data={pressureData} dataKey="v" type="linear" stroke="#ff0000" strokeWidth={3} dot={false} isAnimationActive={false} />
        </LineChart>
      </div>

      {/* MIDDLE CHART: wind direction */}
      <div style={{ position: 'absolute', left: 0, top: 410 }}>
        <LineChart width={764} height={150} margin={{ top: 13, right: 72, bottom: 19, left: 0 }}>
          <XAxis type="number" dataKey="h" domain={[-0.928, 24.249]} allowDataOverflow hide />
          <YAxis yAxisId="d" orientation="left" type="number" domain={[-6.5, 376.2]} allowDataOverflow width={87}
            ticks={union(steps(0, 360, 22.5), dirTicks)} interval={0} tickLine={false} axisLine={false} tickSize={0} tickMargin={0}
            tick={makeYTick({ side: 'left', majors: dirTicks, color: '#400000', labelColor: '#400000', majorLen: 6, minorLen: 2, gap: 9, size: 11 })} />
          {dirTicks.map((v) => (
            <ReferenceLine key={'gd' + v} yAxisId="d" y={v} stroke={GRID} strokeDasharray={DASH} strokeWidth={1.5} />
          ))}
          {hourTicksTop.map((h) => (
            <ReferenceLine key={'gdh' + h} yAxisId="d" x={h} stroke={GRID} strokeDasharray={DASH} strokeWidth={1.5} />
          ))}
          <Line yAxisId="d" data={dirData} dataKey="v" type="linear" stroke="#3f0000" strokeWidth={3} dot={false} isAnimationActive={false} />
        </LineChart>
      </div>

      {/* BOTTOM CHART: rain, humidity, temperature */}
      <div style={{ position: 'absolute', left: 0, top: 560 }}>
        <LineChart width={764} height={404} margin={{ top: 32, right: 30, bottom: 6, left: 19 }}>
          <XAxis type="number" dataKey="h" domain={[-1.169, 24.271]} allowDataOverflow ticks={bottomXTicks} interval={0}
            tickLine={false} axisLine={false} tickSize={0} tickMargin={0} height={35}
            tick={makeXTick(hourTicksBottom, hourLabelsBottom, '#1010d0', '#1414f0', 24)} />
          <YAxis yAxisId="rain" orientation="left" type="number" domain={[-3.125, 203.75]} allowDataOverflow width={34}
            ticks={union(steps(0, 200, 4), rainTicks)} interval={0} tickLine={false} axisLine={false} tickSize={0} tickMargin={0}
            tick={makeYTick({ side: 'left', majors: rainTicks, color: '#0000ff', labelColor: '#0000ff', majorLen: 5, minorLen: 2, gap: 8, size: 10.5 })} />
          <YAxis yAxisId="hum" orientation="left" type="number" domain={[-1.5625, 101.875]} allowDataOverflow width={34}
            ticks={humTicks} interval={0} tickLine={false} axisLine={{ stroke: '#ff8000', strokeWidth: 3 }} tickSize={0} tickMargin={0}
            tick={makeYTick({ side: 'left', majors: humTicks, color: '#ff8000', labelColor: '#ff8000', majorLen: 6, minorLen: 0, gap: 10, size: 10 })} />
          <YAxis yAxisId="temp" orientation="right" type="number" domain={[-0.469, 30.5625]} allowDataOverflow width={40}
            ticks={union(steps(0, 30, 0.5), tempTicks)} interval={0} tickLine={false} axisLine={false} tickSize={0} tickMargin={0}
            tick={makeYTick({ side: 'right', majors: tempTicks, color: '#008000', labelColor: '#008000', majorLen: 6, minorLen: 2, gap: 11, size: 10 })} />
          {rainTicks.map((v) => (
            <ReferenceLine key={'gr' + v} yAxisId="rain" y={v} stroke={GRID} strokeDasharray={DASH} strokeWidth={1.5} />
          ))}
          {hourTicksBottom.map((h) => (
            <ReferenceLine key={'gbh' + h} yAxisId="rain" x={h} stroke={GRID} strokeDasharray={DASH} strokeWidth={1.5} />
          ))}
          <ReferenceLine yAxisId="rain" segment={[{ x: sunriseHour, y: -3 }, { x: sunriseHour, y: 15.6 }]} stroke="#ff7040" strokeDasharray="2 2" strokeWidth={1.2} />
          <ReferenceLine yAxisId="rain" segment={[{ x: sunsetHour, y: -3 }, { x: sunsetHour, y: 15.6 }]} stroke="#ff7040" strokeDasharray="2 2" strokeWidth={1.2} />
          <ReferenceDot yAxisId="rain" x={sunriseHour} y={28.7} r={1} fill="none" stroke="none" label={SunLabel('sunrise', 47)} />
          <ReferenceDot yAxisId="rain" x={sunsetHour} y={28.7} r={1} fill="none" stroke="none" label={SunLabel('sunset', 43)} />
          <Line yAxisId="temp" data={grayData} dataKey="v" type="linear" stroke="#e2e2e2" strokeWidth={3} dot={false} isAnimationActive={false} />
          <Line yAxisId="temp" data={chillData} dataKey="v" type="linear" stroke="#b8d6f6" strokeWidth={1.6} dot={false} isAnimationActive={false} />
          <Line yAxisId="hum" data={humData} dataKey="v" type="linear" stroke="#ff8000" strokeWidth={3} dot={false} isAnimationActive={false} />
          <Line yAxisId="temp" data={tempData} dataKey="v" type="linear" stroke="#0b800b" strokeWidth={3} dot={false} isAnimationActive={false} />
          <Line yAxisId="rain" data={rainData} dataKey="v" type="linear" stroke="#0000ff" strokeWidth={3} dot={false} isAnimationActive={false} />
        </LineChart>
      </div>

      {/* legends / titles */}
      <svg width={764} height={964} style={{ position: 'absolute', left: 0, top: 0, pointerEvents: 'none' }}>
        <Tall x={73} y={21} w={95} fill="#000090">Forza vento)</Tall>
        <Tall x={296} y={21} w={296} fill="#0a0aee">24 hour graph day : 06 Novembre 2011</Tall>
        <Tall x={619} y={21} w={73} fill="#ff0000">Pressione</Tall>
        {dirLetters.map((l, i) => (
          <Tall key={'dl' + i} x={728} y={437 + i * 28.2} w={[11, 18, 10, 9, 11][i]} anchor="middle" fill="#4a1a1a">{l}</Tall>
        ))}
        <rect x={739} y={526} width={3} height={1.5} fill="#4a1a1a" />
        <Tall x={20} y={577} w={56} fill="#0a0aee">Pioggia</Tall>
        <Tall x={125} y={577} w={57} fill="#ff8a1a">Umidita</Tall>
        <Tall x={410} y={577} w={69} fill="#c4dcf4">Windchill</Tall>
        <Tall x={525} y={577} w={94} fill="#168a16">Temperatura</Tall>
      </svg>
    </div>
  );
}
